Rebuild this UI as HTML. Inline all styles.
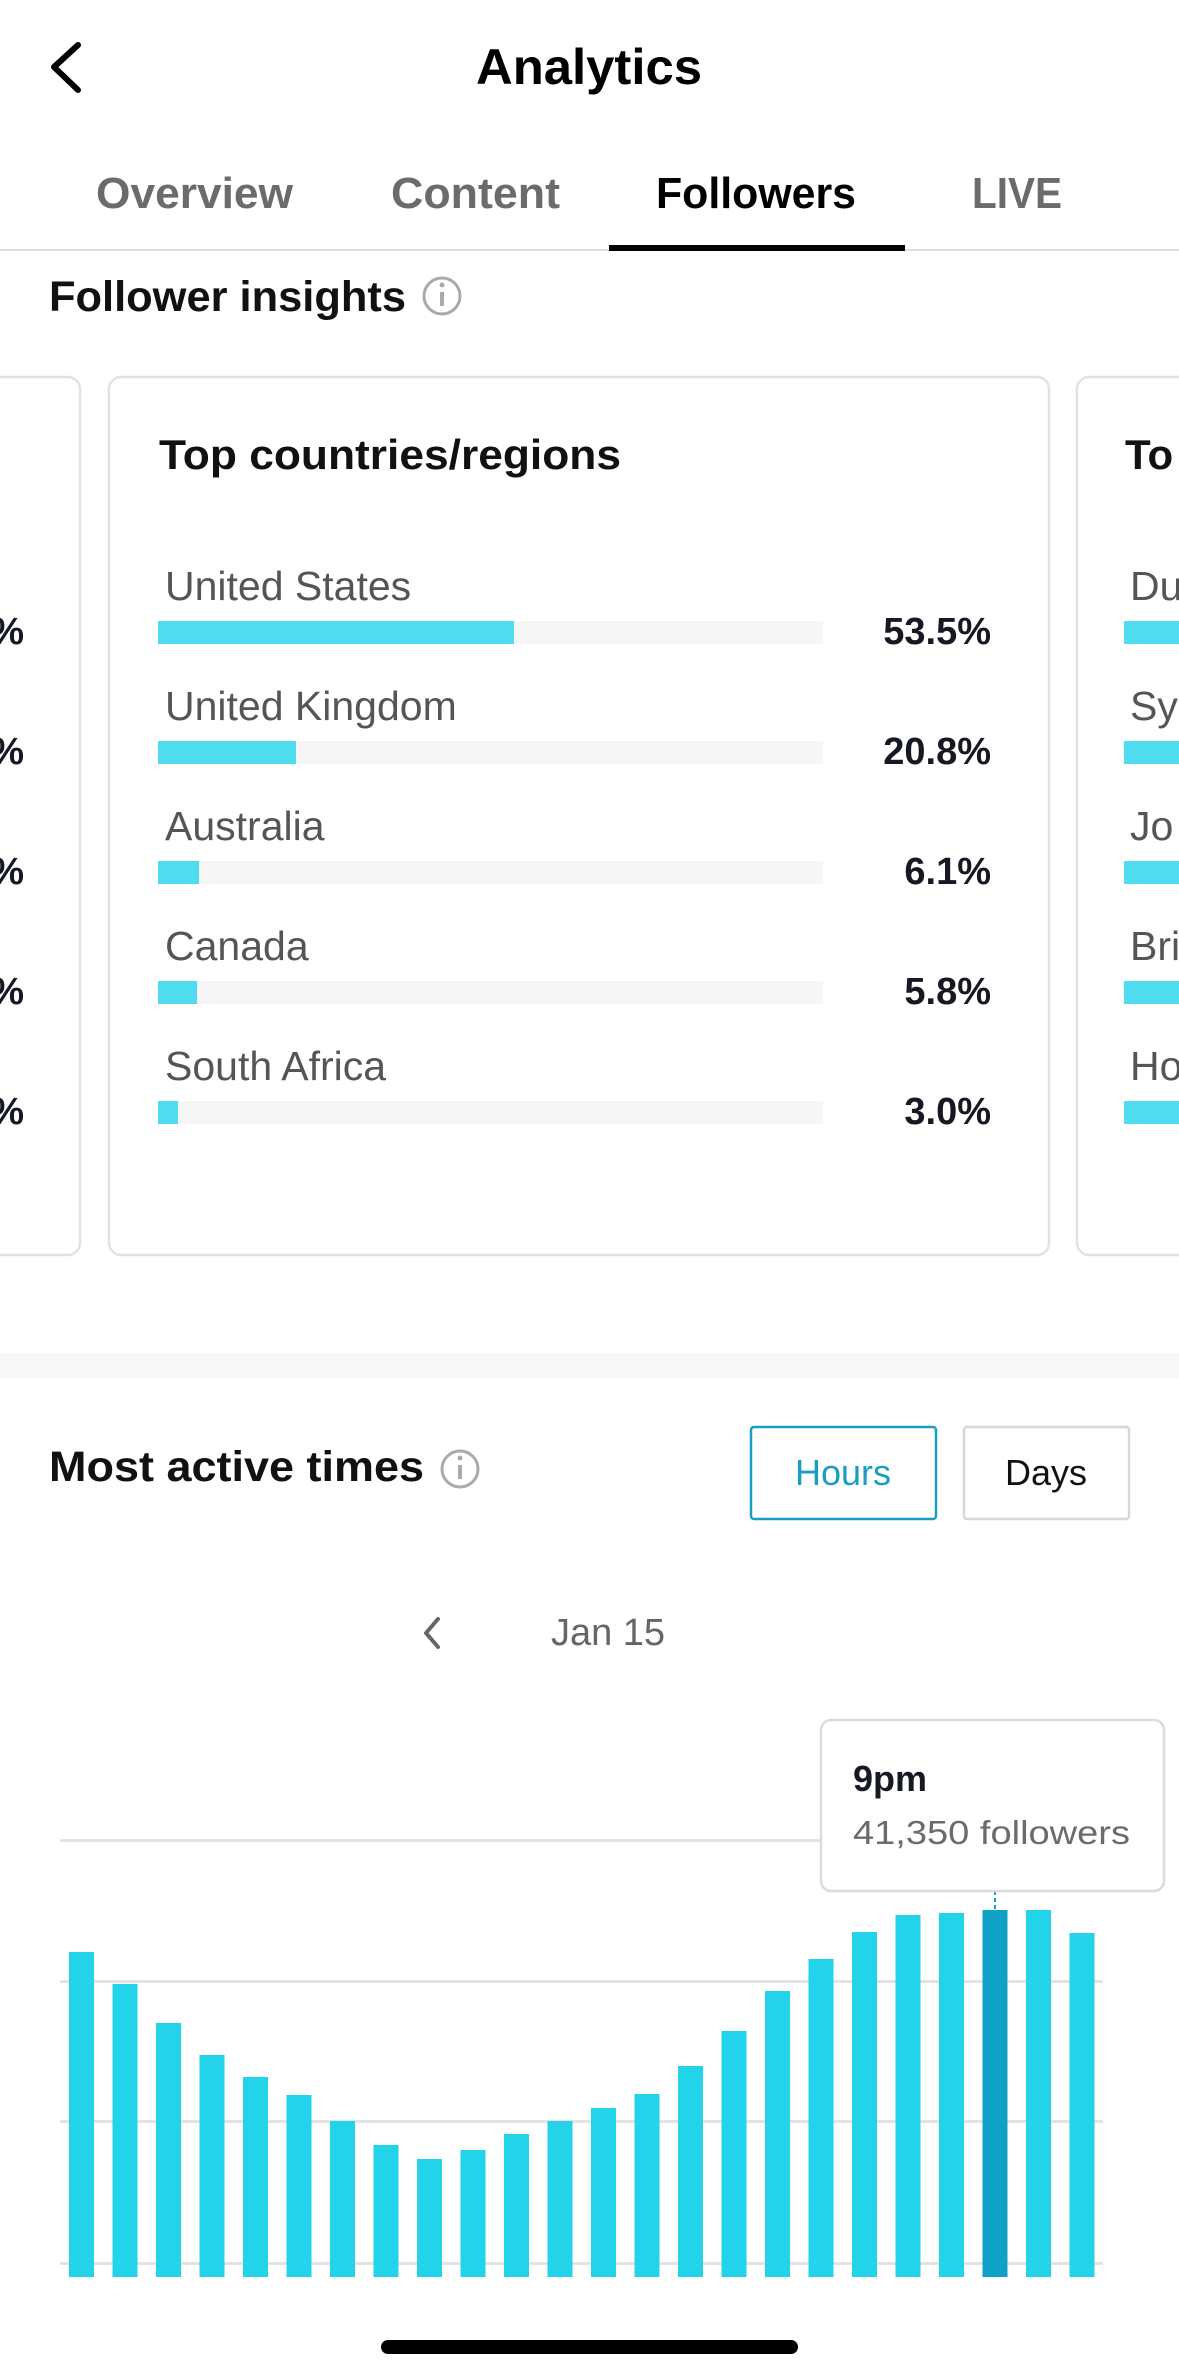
<!DOCTYPE html>
<html><head><meta charset="utf-8"><style>
html,body{margin:0;padding:0;background:#fff;}
svg{display:block;font-family:"Liberation Sans",sans-serif;}
</style></head><body>
<svg width="1179" height="2379" viewBox="0 0 1179 2379" xmlns="http://www.w3.org/2000/svg">
<rect width="1179" height="2379" fill="#fff"/>
<path d="M78 45 L54 67 L78 90" fill="none" stroke="#000" stroke-width="6" stroke-linecap="round" stroke-linejoin="round"/>
<text x="589" y="84" text-anchor="middle" font-size="50" font-weight="bold" fill="#000" textLength="226" lengthAdjust="spacingAndGlyphs">Analytics</text>
<text x="96" y="208" font-size="44" font-weight="bold" fill="#6b6b6b" textLength="197" lengthAdjust="spacingAndGlyphs">Overview</text>
<text x="391" y="208" font-size="44" font-weight="bold" fill="#6b6b6b" textLength="169" lengthAdjust="spacingAndGlyphs">Content</text>
<text x="656" y="208" font-size="44" font-weight="bold" fill="#000" textLength="200" lengthAdjust="spacingAndGlyphs">Followers</text>
<text x="972" y="208" font-size="44" font-weight="bold" fill="#6b6b6b" textLength="90" lengthAdjust="spacingAndGlyphs">LIVE</text>
<rect x="0" y="249" width="1179" height="2" fill="#dedede"/>
<rect x="609" y="245" width="296" height="6" fill="#000"/>
<text x="49" y="311" font-size="43" font-weight="bold" fill="#111" textLength="357" lengthAdjust="spacingAndGlyphs">Follower insights</text>
<circle cx="442" cy="296" r="18" fill="none" stroke="#aaa" stroke-width="3"/>
<rect x="440" y="292" width="4" height="14" fill="#aaa"/><circle cx="442" cy="285" r="2.5" fill="#aaa"/>
<rect x="-40" y="377" width="120" height="878" rx="12" fill="#fff" stroke="#e2e2e2" stroke-width="2.5"/>
<rect x="109" y="377" width="940" height="878" rx="12" fill="#fff" stroke="#e2e2e2" stroke-width="2.5"/>
<rect x="1077" y="377" width="140" height="878" rx="12" fill="#fff" stroke="#e2e2e2" stroke-width="2.5"/>
<text x="159" y="469" font-size="42" font-weight="bold" fill="#111" textLength="462" lengthAdjust="spacingAndGlyphs">Top countries/regions</text>
<text x="1125" y="469" font-size="42" font-weight="bold" fill="#111">To</text>
<g font-size="41" fill="#555">
<text x="165" y="600">United States</text>
<text x="165" y="720">United Kingdom</text>
<text x="165" y="840">Australia</text>
<text x="165" y="960">Canada</text>
<text x="165" y="1080">South Africa</text>
<text x="1130" y="600">Du</text><text x="1130" y="720">Sy</text><text x="1130" y="840">Jo</text><text x="1130" y="960">Bri</text><text x="1130" y="1080">Ho</text>
</g>
<g fill="#f6f6f6">
<rect x="158" y="621" width="665" height="23"/><rect x="158" y="741" width="665" height="23"/><rect x="158" y="861" width="665" height="23"/><rect x="158" y="981" width="665" height="23"/><rect x="158" y="1101" width="665" height="23"/>
</g>
<g fill="#4fdcee">
<rect x="158" y="621" width="356" height="23"/><rect x="158" y="741" width="138" height="23"/><rect x="158" y="861" width="41" height="23"/><rect x="158" y="981" width="39" height="23"/><rect x="158" y="1101" width="20" height="23"/>
<rect x="1124" y="621" width="55" height="23"/><rect x="1124" y="741" width="55" height="23"/><rect x="1124" y="861" width="55" height="23"/><rect x="1124" y="981" width="55" height="23"/><rect x="1124" y="1101" width="55" height="23"/>
</g>
<g font-size="38" font-weight="bold" fill="#161823" text-anchor="end">
<text x="991" y="644">53.5%</text><text x="991" y="764">20.8%</text><text x="991" y="884">6.1%</text><text x="991" y="1004">5.8%</text><text x="991" y="1124">3.0%</text>
<text x="24" y="644">%</text><text x="24" y="764">%</text><text x="24" y="884">%</text><text x="24" y="1004">%</text><text x="24" y="1124">%</text>
</g>
<rect x="0" y="1353" width="1179" height="25" fill="#f8f8f8"/>
<text x="49" y="1481" font-size="43" font-weight="bold" fill="#111" textLength="375" lengthAdjust="spacingAndGlyphs">Most active times</text>
<circle cx="460" cy="1469" r="18" fill="none" stroke="#aaa" stroke-width="3"/>
<rect x="458" y="1465" width="4" height="14" fill="#aaa"/><circle cx="460" cy="1458" r="2.5" fill="#aaa"/>
<rect x="751" y="1427" width="185" height="92" rx="3" fill="#fff" stroke="#1a9cc4" stroke-width="2.5"/>
<text x="843" y="1485" text-anchor="middle" font-size="36" fill="#1a9cc4">Hours</text>
<rect x="964" y="1427" width="165" height="92" rx="3" fill="#fff" stroke="#d6d6d6" stroke-width="2.5"/>
<text x="1046" y="1485" text-anchor="middle" font-size="36" fill="#111">Days</text>
<path d="M438 1619 L426 1633 L438 1647" fill="none" stroke="#666" stroke-width="4" stroke-linecap="round" stroke-linejoin="round"/>
<text x="608" y="1645" text-anchor="middle" font-size="38" fill="#666">Jan 15</text>
<g fill="#e3e3e3">
<rect x="60" y="1839" width="762" height="3"/>
<rect x="60" y="1980" width="1043" height="3"/>
<rect x="60" y="2120" width="1043" height="3"/>
<rect x="60" y="2262" width="1043" height="3"/>
</g>
<g fill="#22d3ea">
<rect x="69" y="1952" width="25" height="325"/>
<rect x="112.5" y="1984" width="25" height="293"/>
<rect x="156" y="2023" width="25" height="254"/>
<rect x="199.5" y="2055" width="25" height="222"/>
<rect x="243" y="2077" width="25" height="200"/>
<rect x="286.5" y="2095" width="25" height="182"/>
<rect x="330" y="2121" width="25" height="156"/>
<rect x="373.5" y="2145" width="25" height="132"/>
<rect x="417" y="2159" width="25" height="118"/>
<rect x="460.5" y="2150" width="25" height="127"/>
<rect x="504" y="2134" width="25" height="143"/>
<rect x="547.5" y="2121" width="25" height="156"/>
<rect x="591" y="2108" width="25" height="169"/>
<rect x="634.5" y="2094" width="25" height="183"/>
<rect x="678" y="2066" width="25" height="211"/>
<rect x="721.5" y="2031" width="25" height="246"/>
<rect x="765" y="1991" width="25" height="286"/>
<rect x="808.5" y="1959" width="25" height="318"/>
<rect x="852" y="1932" width="25" height="345"/>
<rect x="895.5" y="1915" width="25" height="362"/>
<rect x="939" y="1913" width="25" height="364"/>
<rect x="1026" y="1910" width="25" height="367"/>
<rect x="1069.5" y="1933" width="25" height="344"/>
</g>
<rect x="982.5" y="1910" width="25" height="367" fill="#10a2c6"/>
<line x1="995" y1="1891" x2="995" y2="1910" stroke="#10a2c6" stroke-width="2" stroke-dasharray="4 3"/>
<rect x="821" y="1720" width="343" height="171" rx="10" fill="#fff" stroke="#dcdcdc" stroke-width="2.5"/>
<text x="853" y="1791" font-size="36" font-weight="bold" fill="#161823">9pm</text>
<text x="853" y="1844" font-size="33" fill="#6b6b6b" textLength="277" lengthAdjust="spacingAndGlyphs">41,350 followers</text>
<rect x="381" y="2340" width="417" height="14" rx="7" fill="#000"/>
</svg>
</body></html>
